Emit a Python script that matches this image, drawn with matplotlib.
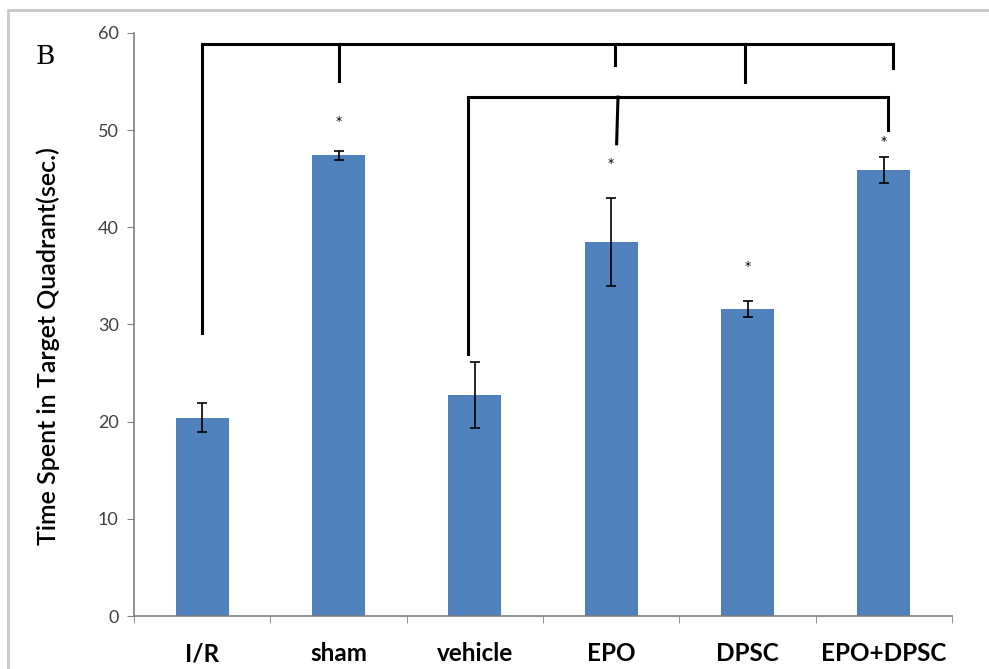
import matplotlib.pyplot as plt
from matplotlib.patches import Rectangle

# Dữ liệu
groups = ['I/R', 'sham', 'vehicle', 'EPO', 'DPSC', 'EPO+DPSC']
means = [20.4, 47.4, 22.7, 38.5, 31.6, 45.9]
errs = [1.5, 0.5, 3.4, 4.5, 0.8, 1.3]
star_groups = [1, 3, 4, 5]
star_y = [50.9, 46.6, 36.0, 48.8]

bar_color = '#4F81BD'
font = 'Lato'

fig = plt.figure(figsize=(9.89, 6.69), dpi=100)
ax = fig.add_axes([0.1355, 0.0792, 0.8271, 0.8715])

x = list(range(len(groups)))
ax.bar(x, means, width=0.39, color=bar_color, zorder=2)
ax.errorbar(x, means, yerr=errs, fmt='none', ecolor='black', elinewidth=1.2,
            capsize=3.5, capthick=1.2, zorder=3)

for g, yy in zip(star_groups, star_y):
    ax.text(g, yy, '*', ha='center', va='center', fontsize=9, color='black')

# Các đường nối so sánh
lw = 2.2
ax.plot([0, 0, 5.07], [29.1, 58.9, 58.9], color='black', lw=lw, solid_joinstyle='miter')
ax.plot([5.07, 5.07], [58.9, 56.4], color='black', lw=lw)
ax.plot([1.0, 1.0], [58.9, 55.1], color='black', lw=lw)
ax.plot([3.03, 3.03], [58.9, 56.7], color='black', lw=lw)
ax.plot([3.98, 3.98], [58.9, 55.0], color='black', lw=lw)

ax.plot([1.95, 1.95, 5.03, 5.03], [27.0, 53.4, 53.4, 50.0], color='black', lw=lw,
        solid_joinstyle='miter')
ax.plot([3.05, 3.04], [53.4, 48.6], color='black', lw=lw)

ax.set_xlim(-0.5, 5.5)
ax.set_ylim(0, 60)
ax.set_yticks(range(0, 61, 10))
ax.set_xticks(x)
ax.set_xticklabels(groups, fontfamily=font, fontweight='bold', fontsize=17.5)
ax.set_xticks([i - 0.5 for i in range(len(groups) + 1)], minor=True)
ax.tick_params(axis='x', which='major', length=0, pad=19)
ax.tick_params(axis='x', which='minor', length=5, color='#808080', direction='out')
ax.tick_params(axis='y', length=5, color='#808080', labelsize=13, labelcolor='#404040', pad=6)
for lab in ax.get_yticklabels():
    lab.set_fontfamily(font)

for s in ['top', 'right']:
    ax.spines[s].set_visible(False)
for s in ['left', 'bottom']:
    ax.spines[s].set_color('#808080')
    ax.spines[s].set_linewidth(1.2)

fig.text(48 / 989, 1 - 346 / 669, 'Time Spent in Target Quadrant(sec.)', rotation=90,
         fontfamily=font, fontweight='semibold', fontsize=18, ha='center', va='center')

fig.text(0.0455, 0.916, 'B', fontfamily='DejaVu Serif', fontsize=19, ha='center', va='center')

# Khung viền ngoài (chỉ thấy cạnh trên và cạnh trái)
fig.patches.append(Rectangle((8 / 989, -0.1), 1.2, 1.1 - 10 / 669, transform=fig.transFigure,
                             fill=False, edgecolor='#C8C8C8', lw=2))

fig.savefig('out.png', dpi=100)
